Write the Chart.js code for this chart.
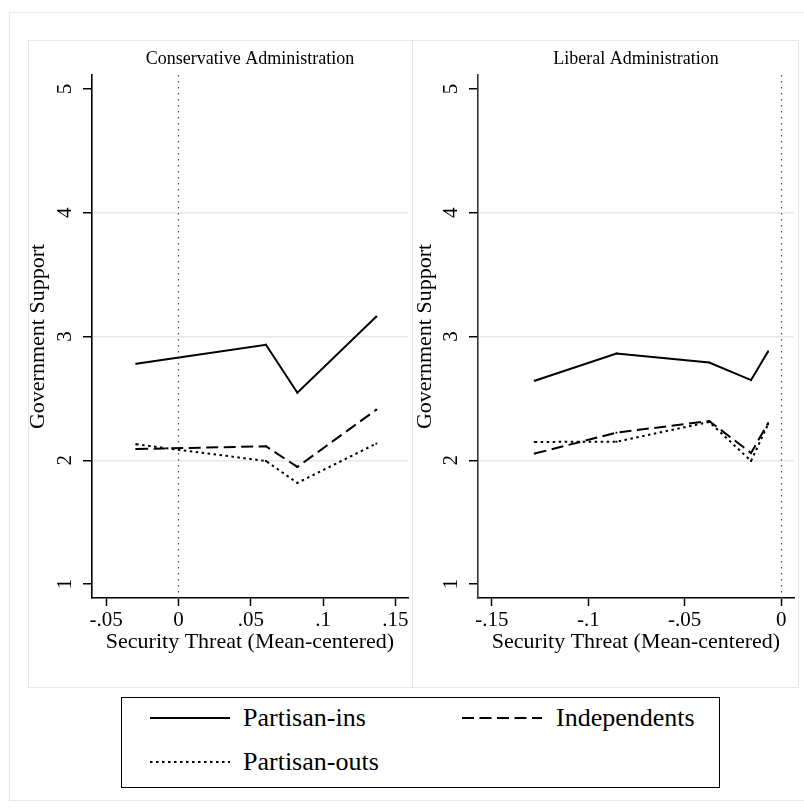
<!DOCTYPE html>
<html><head><meta charset="utf-8">
<script src="https://cdn.jsdelivr.net/npm/chart.js@4.4.1/dist/chart.umd.min.js"></script>
<style>
body{margin:0;background:#fff;width:804px;height:810px;position:relative;overflow:hidden;font-family:"Liberation Serif","Times New Roman",serif;}
.box{position:absolute;box-sizing:border-box;}
canvas{position:absolute;}
.lg{position:absolute;font-size:26px;line-height:30px;color:#000;white-space:nowrap;}
.smp{position:absolute;}
</style></head><body>
<div class="box" style="left:9px;top:12px;width:796px;height:789px;border:1px solid #e3eaed;"></div>
<div class="box" style="left:28px;top:40px;width:385px;height:648px;border:1px solid #e8e8e8;"></div>
<div class="box" style="left:412px;top:40px;width:387px;height:648px;border:1px solid #e8e8e8;"></div>
<canvas id="c1" width="394" height="646" style="left:18px;top:40px;"></canvas>
<canvas id="c2" width="386" height="646" style="left:412px;top:40px;"></canvas>
<div id="legend" class="box" style="left:121px;top:697px;width:599px;height:91px;border:1.5px solid #000;">
  <svg class="smp" style="left:28px;top:18px" width="80" height="4"><line x1="0" y1="2" x2="80" y2="2" stroke="#000" stroke-width="2"/></svg>
  <div class="lg" style="left:121px;top:5px;">Partisan-ins</div>
  <svg class="smp" style="left:340px;top:18px" width="80" height="4"><line x1="0" y1="2" x2="80" y2="2" stroke="#000" stroke-width="2" stroke-dasharray="12 5.5"/></svg>
  <div class="lg" style="left:434px;top:5px;">Independents</div>
  <svg class="smp" style="left:28px;top:62px" width="80" height="4"><line x1="0" y1="2" x2="80" y2="2" stroke="#000" stroke-width="2" stroke-dasharray="2.5 3.5"/></svg>
  <div class="lg" style="left:121px;top:49px;">Partisan-outs</div>
</div>
<script>
// ---- data ----
const seriesNames = ['Partisan-ins', 'Independents', 'Partisan-outs'];
const panelTitles = ['Conservative Administration', 'Liberal Administration'];
const xAxisTitle = 'Security Threat (Mean-centered)';
const yAxisTitle = 'Government Support';

const consThreat = [-0.0292, 0.0605, 0.0822, 0.1368];
const consIns    = [2.780, 2.933, 2.546, 3.161];
const consInd    = [2.091, 2.113, 1.946, 2.409];
const consOuts   = [2.129, 1.994, 1.817, 2.135];

const libThreat = [-0.1278, -0.0854, -0.0373, -0.0156, -0.0068];
const libIns    = [2.643, 2.863, 2.790, 2.648, 2.879];
const libInd    = [2.054, 2.223, 2.317, 2.059, 2.300];
const libOuts   = [2.148, 2.150, 2.310, 1.994, 2.290];

const yTicks = [1, 2, 3, 4, 5];
const yGridTicks = [2, 3, 4];
const consXTicks = [-0.05, 0, 0.05, 0.1, 0.15];
const consXLabels = ['-.05', '0', '.05', '.1', '.15'];
const libXTicks = [-0.15, -0.1, -0.05, 0];
const libXLabels = ['-.15', '-.1', '-.05', '0'];

// ---- styling ----
const FONT = '"Liberation Serif", "Times New Roman", serif';
Chart.defaults.font.family = FONT;
Chart.defaults.color = '#000';
const dashes = [[], [12, 5.5], [2.5, 3.5]];

const zeroLine = {
  id: 'zeroLine',
  beforeDatasetsDraw(chart) {
    const {ctx, chartArea: {top, bottom}, scales: {x}} = chart;
    const px = Math.round(x.getPixelForValue(0)) + 0.5;
    ctx.save();
    ctx.strokeStyle = '#555';
    ctx.lineWidth = 1.3;
    ctx.setLineDash([1.5, 4.5]);
    ctx.beginPath();
    ctx.moveTo(px, top);
    ctx.lineTo(px, bottom);
    ctx.stroke();
    ctx.restore();
  }
};

function labelFor(ticks, labels, v) {
  for (let i = 0; i < ticks.length; i++) if (Math.abs(ticks[i] - v) < 1e-9) return labels[i];
  return '';
}

function makePanel(id, title, xs, series, xTicks, xLabels, xMin, xMax, g) {
  const datasets = series.map((vals, i) => ({
    label: seriesNames[i],
    data: xs.map((x, j) => ({x: x, y: vals[j]})),
    borderColor: '#000',
    backgroundColor: '#000',
    borderWidth: 2,
    borderDash: dashes[i],
    pointStyle: 'rect',
    pointRadius: 1.3,
    pointBorderWidth: 0,
    pointBackgroundColor: '#000',
    tension: 0,
    fill: false
  }));
  return new Chart(document.getElementById(id), {
    type: 'line',
    data: {datasets},
    plugins: [zeroLine],
    options: {
      responsive: false,
      animation: false,
      events: [],
      layout: {padding: {left: 0, right: g.padRight, top: 0, bottom: 0}},
      plugins: {
        legend: {display: false},
        tooltip: {enabled: false},
        title: {
          display: true, text: title, fullSize: false,
          font: {size: 18, weight: 'normal', family: FONT}, color: '#000',
          padding: {top: 8.8, bottom: 4.6}
        }
      },
      scales: {
        x: {
          type: 'linear', min: xMin, max: xMax,
          afterBuildTicks: s => { s.ticks = xTicks.map(v => ({value: v})); },
          afterFit: s => { s.height = 88; },
          ticks: {
            callback: v => labelFor(xTicks, xLabels, v),
            font: {size: 21}, color: '#000', padding: 2,
            minRotation: 0, maxRotation: 0, autoSkip: false
          },
          grid: {display: true, drawOnChartArea: false, drawTicks: true, tickLength: 8, tickColor: '#000', tickWidth: 1.5},
          border: {display: true, color: '#000', width: 1.6},
          title: {display: true, text: xAxisTitle, font: {size: 22}, color: '#000', padding: {top: 0, bottom: 31}}
        },
        y: {
          type: 'linear', min: 0.887, max: 5.113,
          afterBuildTicks: s => { s.ticks = yTicks.map(v => ({value: v})); },
          afterFit: s => { s.width = g.yWidth; },
          ticks: {
            minRotation: 90, maxRotation: 90, crossAlign: 'center',
            font: {size: 21}, color: '#000', padding: 12, autoSkip: false
          },
          grid: {
            color: c => (c.tick && yGridTicks.includes(c.tick.value)) ? '#e8e8e8' : 'rgba(0,0,0,0)',
            lineWidth: 1.5, drawTicks: true, tickLength: 9, tickColor: '#000', tickWidth: 1.5
          },
          border: {display: true, color: g.axisColor, width: 1.6},
          title: {display: true, text: yAxisTitle, font: {size: 22}, color: '#000', padding: {top: g.yTitlePad, bottom: 0}}
        }
      }
    }
  });
}

makePanel('c1', panelTitles[0], consThreat, [consIns, consInd, consOuts],
  consXTicks, consXLabels, -0.05975, 0.15866, {yWidth: 74, padRight: 1, yTitlePad: 7, axisColor: '#000'});
makePanel('c2', panelTitles[1], libThreat, [libIns, libInd, libOuts],
  libXTicks, libXLabels, -0.1572, 0.00667, {yWidth: 66, padRight: 1, yTitlePad: 0, axisColor: '#333'});
</script>
</body></html>
